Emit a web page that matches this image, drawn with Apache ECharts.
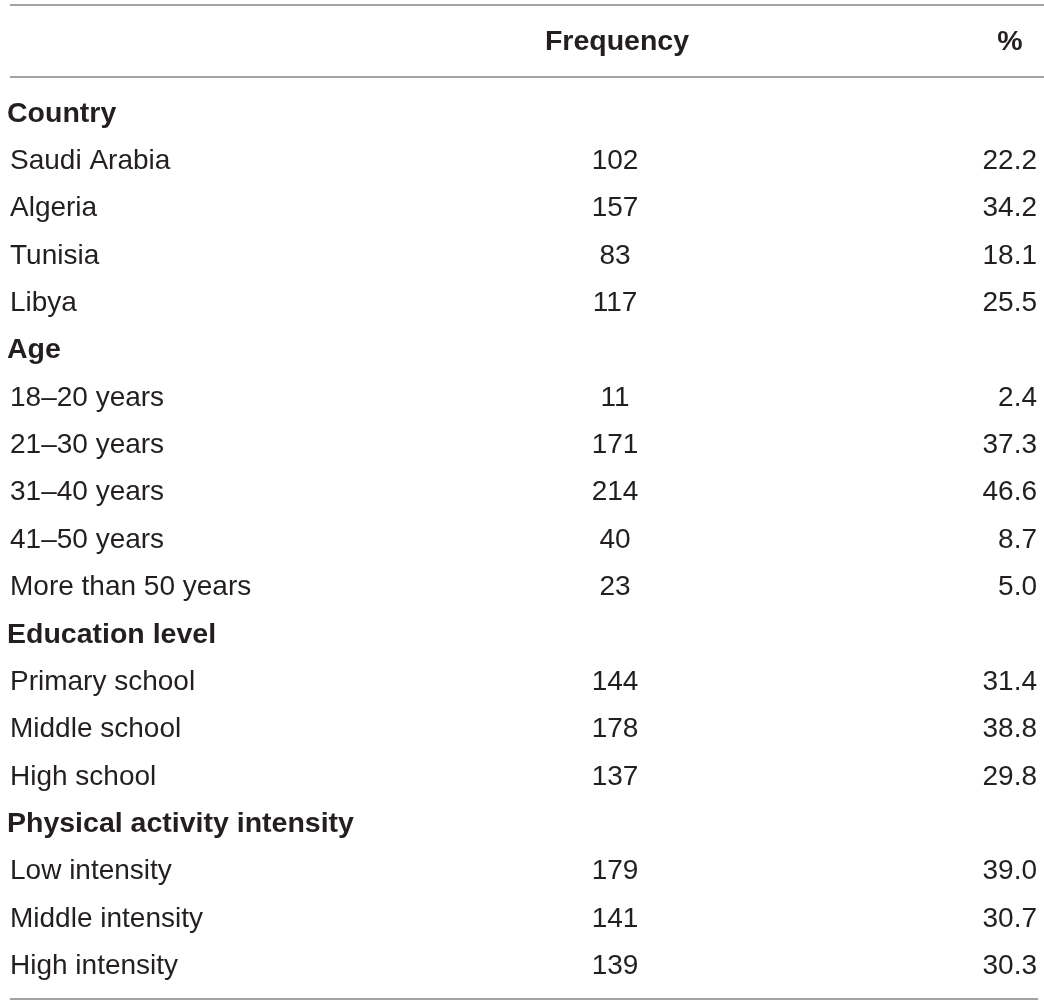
<!DOCTYPE html>
<html>
<head>
<meta charset="utf-8">
<script src="https://cdn.jsdelivr.net/npm/echarts@6/dist/echarts.min.js"></script>
<style>
  html, body { margin: 0; padding: 0; background: #fff; }
  #main { width: 1044px; height: 1006px; }
</style>
</head>
<body>
<div id="main"></div>
<script>
// table contents, one small block per section
var headers = ['Frequency', '%'];

var countryLabels = ['Saudi Arabia', 'Algeria', 'Tunisia', 'Libya'];
var countryFreq = [102, 157, 83, 117];
var countryPct = [22.2, 34.2, 18.1, 25.5];

var ageLabels = ['18\u201320 years', '21\u201330 years', '31\u201340 years', '41\u201350 years', 'More than 50 years'];
var ageFreq = [11, 171, 214, 40, 23];
var agePct = [2.4, 37.3, 46.6, 8.7, 5.0];

var eduLabels = ['Primary school', 'Middle school', 'High school'];
var eduFreq = [144, 178, 137];
var eduPct = [31.4, 38.8, 29.8];

var actLabels = ['Low intensity', 'Middle intensity', 'High intensity'];
var actFreq = [179, 141, 139];
var actPct = [39.0, 30.7, 30.3];

var sections = [
    { title: 'Country', labels: countryLabels, freq: countryFreq, pct: countryPct },
    { title: 'Age', labels: ageLabels, freq: ageFreq, pct: agePct },
    { title: 'Education level', labels: eduLabels, freq: eduFreq, pct: eduPct },
    { title: 'Physical activity intensity', labels: actLabels, freq: actFreq, pct: actPct }
];

// flatten into rows
var rows = [];
sections.forEach(function (s) {
    rows.push({ label: s.title, head: true });
    s.labels.forEach(function (l, i) {
        rows.push({ label: l, freq: s.freq[i], pct: s.pct[i].toFixed(1) });
    });
});
var rowNames = rows.map(function (r, i) { return String(i); });

var TXT = '#231f20';
var RULE = '#a3a3a3';
var FONT = '"Liberation Sans", Arial, sans-serif';

var myChart = echarts.init(document.getElementById('main'));

var option = {
    backgroundColor: '#fff',
    animation: false,
    grid: { left: 0, right: 0, top: 90, bottom: 16 },
    xAxis: { type: 'value', min: 0, max: 1, show: false },
    yAxis: { type: 'category', data: rowNames, inverse: true, show: false },
    graphic: [
        { type: 'line', shape: { x1: 10, y1: 5, x2: 1044, y2: 5 }, style: { stroke: RULE, lineWidth: 2 } },
        { type: 'line', shape: { x1: 10, y1: 77, x2: 1044, y2: 77 }, style: { stroke: RULE, lineWidth: 2 } },
        { type: 'line', shape: { x1: 10, y1: 999, x2: 1038, y2: 999 }, style: { stroke: RULE, lineWidth: 2 } },
        { type: 'text', x: 617, y: 42, style: { text: headers[0], fill: TXT, font: 'bold 28.5px ' + FONT, textAlign: 'center', textVerticalAlign: 'middle' } },
        { type: 'text', x: 1010, y: 42, style: { text: headers[1], fill: TXT, font: 'bold 28.5px ' + FONT, textAlign: 'center', textVerticalAlign: 'middle' } }
    ],
    series: [{
        type: 'custom',
        coordinateSystem: 'cartesian2d',
        data: rows.map(function (r, i) { return [0, i]; }),
        renderItem: function (params, api) {
            var r = rows[params.dataIndex];
            var pos = api.coord([0, api.value(1)]);
            var cs = params.coordSys;
            var y = pos[1];
            var kids = [];
            kids.push({
                type: 'text',
                x: cs.x + (r.head ? 7 : 10), y: y,
                style: { text: r.label, fill: TXT, font: (r.head ? 'bold 28.5px ' : '28px ') + FONT, textAlign: 'left', textVerticalAlign: 'middle' }
            });
            if (!r.head) {
                kids.push({
                    type: 'text', x: cs.x + 615, y: y,
                    style: { text: String(r.freq), fill: TXT, font: '28px ' + FONT, textAlign: 'center', textVerticalAlign: 'middle' }
                });
                kids.push({
                    type: 'text', x: cs.x + 1037, y: y,
                    style: { text: r.pct, fill: TXT, font: '28px ' + FONT, textAlign: 'right', textVerticalAlign: 'middle' }
                });
            }
            return { type: 'group', children: kids };
        }
    }]
};

myChart.setOption(option);
</script>
</body>
</html>
